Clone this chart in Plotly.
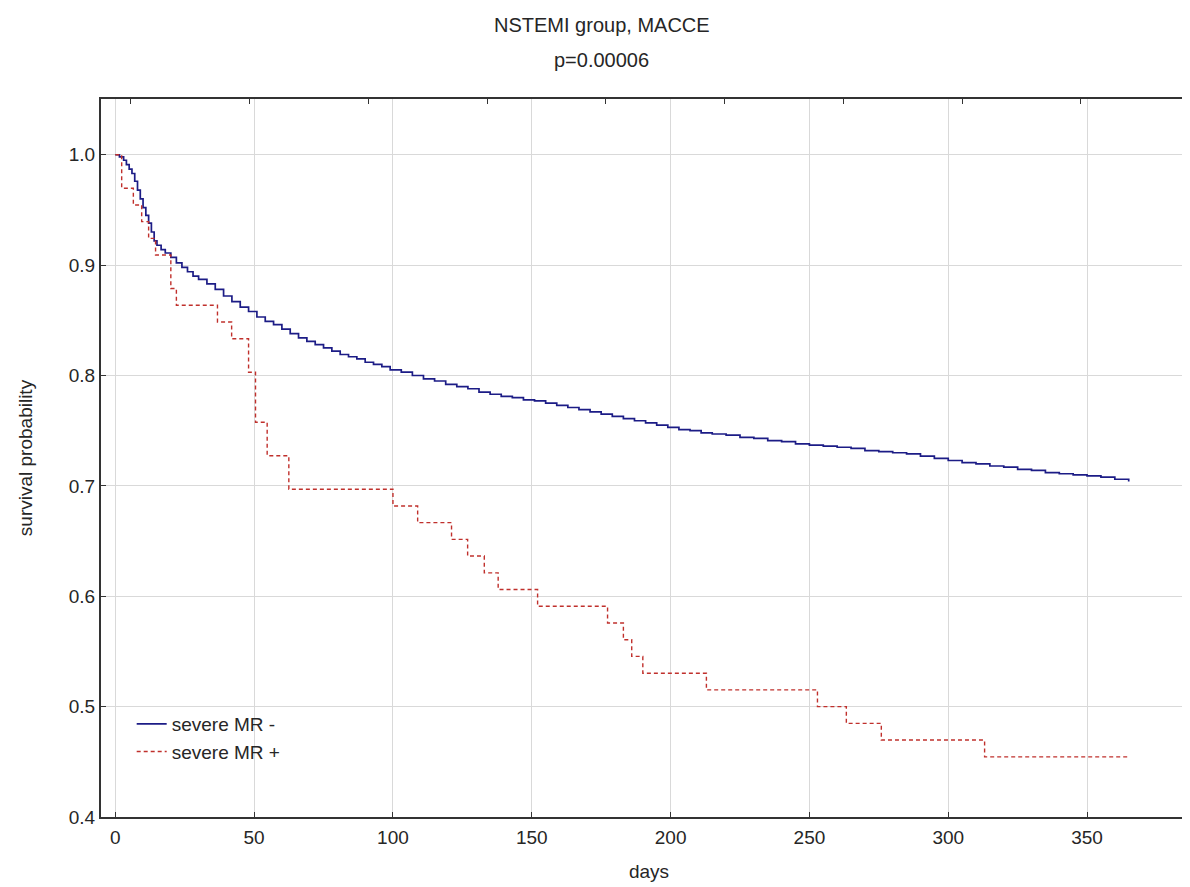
import plotly.graph_objects as go

# ---- data ----
title_line1 = "NSTEMI group, MACCE"
title_line2 = "p=0.00006"

neg_name = "severe MR -"
neg_days = [0, 1.5, 3, 4, 5, 6, 7, 8, 9, 10, 11, 12, 13, 14, 15, 16.5, 18, 20, 22, 24, 26,
            28, 30, 33, 36, 39, 42, 45, 48, 51, 54, 57, 60, 63, 66, 69, 72, 75, 78, 81, 84,
            87, 90, 93, 96, 99, 103, 107, 111, 115, 119, 123, 127, 131, 135, 139, 143, 147,
            151, 155, 159, 163, 167, 171, 175, 179, 183, 187, 191, 195, 199, 203, 207, 211,
            215, 220, 225, 230, 235, 240, 245, 250, 255, 260, 265, 270, 275, 280, 285, 290,
            295, 300, 305, 310, 315, 320, 325, 330, 335, 340, 345, 350, 355, 360, 365]
neg_surv = [1.000, 0.998, 0.995, 0.991, 0.987, 0.983, 0.976, 0.968, 0.960, 0.952, 0.945,
            0.938, 0.930, 0.922, 0.918, 0.914, 0.911, 0.907, 0.902, 0.898, 0.894, 0.890,
            0.887, 0.883, 0.878, 0.872, 0.867, 0.862, 0.858, 0.853, 0.849, 0.846, 0.842,
            0.838, 0.834, 0.831, 0.828, 0.825, 0.822, 0.819, 0.817, 0.815, 0.812, 0.810,
            0.808, 0.805, 0.803, 0.800, 0.797, 0.795, 0.792, 0.790, 0.788, 0.785, 0.783,
            0.781, 0.780, 0.778, 0.777, 0.775, 0.773, 0.771, 0.769, 0.767, 0.765, 0.763,
            0.761, 0.759, 0.757, 0.755, 0.753, 0.751, 0.750, 0.748, 0.747, 0.746, 0.744,
            0.743, 0.741, 0.740, 0.738, 0.737, 0.736, 0.735, 0.734, 0.732, 0.731, 0.730,
            0.729, 0.727, 0.725, 0.723, 0.721, 0.720, 0.718, 0.717, 0.715, 0.714, 0.712,
            0.711, 0.710, 0.709, 0.708, 0.706, 0.704]

pos_name = "severe MR +"
pos_days = [0, 2.3, 6.5, 9.5, 12, 14.5, 20, 22, 36.8, 41.9, 48, 50.5, 54.7, 62.5, 100,
            108.9, 121.1, 126.9, 132.9, 137.9, 152.1, 177.3, 183, 186, 190, 212.9, 252.9,
            263.3, 275.9, 313.1, 364.8]
pos_surv = [1.0, 0.9697, 0.9545, 0.9394, 0.9242, 0.9091, 0.8788, 0.8636, 0.8485, 0.8333,
            0.8030, 0.7576, 0.7273, 0.6970, 0.6818, 0.6667, 0.6515, 0.6364, 0.6212, 0.6061,
            0.5909, 0.5758, 0.5606, 0.5455, 0.5303, 0.5152, 0.5000, 0.4848, 0.4697, 0.4545,
            0.4545]

x_ticks = [0, 50, 100, 150, 200, 250, 300, 350]
y_ticks = [0.4, 0.5, 0.6, 0.7, 0.8, 0.9, 1.0]
x_title = "days"
y_title = "survival probability"

FONT = "Liberation Sans, Arial, sans-serif"
TXT = "#262626"

fig = go.Figure()
fig.add_trace(go.Scatter(x=neg_days, y=neg_surv, mode="lines", name=neg_name,
                         line=dict(color="#1c1c86", width=1.7, shape="hv")))
fig.add_trace(go.Scatter(x=pos_days, y=pos_surv, mode="lines", name=pos_name,
                         line=dict(color="#c0302c", width=1.4, shape="hv", dash="4px,3px")))
# empty trace to materialise the top/right frame axes
fig.add_trace(go.Scatter(x=[], y=[], xaxis="x2", yaxis="y2", showlegend=False,
                         hoverinfo="skip"))

fig.update_layout(
    width=1190, height=887,
    margin=dict(l=93, r=1, t=91, b=78),
    paper_bgcolor="white", plot_bgcolor="white",
    font=dict(family=FONT, size=19, color=TXT),
    showlegend=True,
    legend=dict(x=0.028, y=0.156, xanchor="left", yanchor="top",
                bgcolor="rgba(0,0,0,0)", borderwidth=0,
                font=dict(size=19, color=TXT), itemwidth=30, tracegroupgap=0),
    xaxis=dict(range=[-5.15, 389.6], tickvals=x_ticks, ticktext=[str(v) for v in x_ticks],
               ticks="inside", ticklen=5, tickcolor="#333", tickwidth=1,
               showgrid=True, gridcolor="#d9d9d9", gridwidth=1, zeroline=False,
               showline=True, linecolor="#333", linewidth=2,
               ticklabelstandoff=2, tickfont=dict(size=19),
               title=dict(text=x_title, standoff=18, font=dict(size=19))),
    yaxis=dict(range=[0.4, 1.0505], tickvals=y_ticks, ticktext=[f"{v:.1f}" for v in y_ticks],
               ticks="inside", ticklen=5, tickcolor="#333", tickwidth=1,
               showgrid=True, gridcolor="#d9d9d9", gridwidth=1, zeroline=False,
               showline=True, linecolor="#333", linewidth=2,
               ticklabelstandoff=0, tickfont=dict(size=19),
               title=dict(text=y_title, standoff=31, font=dict(size=19))),
    xaxis2=dict(overlaying="x", side="top", range=[-0.2526, 8.979], tick0=0, dtick=1,
                ticks="inside", ticklen=5, tickcolor="#333", showticklabels=False,
                showgrid=False, zeroline=False, showline=True, linecolor="#333",
                linewidth=2),
    yaxis2=dict(overlaying="y", side="right", range=[0, 7.503], tick0=0, dtick=1,
                ticks="inside", ticklen=5, tickcolor="#333", showticklabels=False,
                showgrid=False, zeroline=False, showline=True, linecolor="#888",
                linewidth=1),
)

fig.add_annotation(text=title_line1, xref="paper", yref="paper", x=0.457, y=1.103,
                   xanchor="center", yanchor="middle", showarrow=False,
                   font=dict(size=20, color=TXT, family=FONT))
fig.add_annotation(text=title_line2, xref="paper", yref="paper", x=0.457, y=1.054,
                   xanchor="center", yanchor="middle", showarrow=False,
                   font=dict(size=20, color=TXT, family=FONT))

fig.write_html("out.html")
